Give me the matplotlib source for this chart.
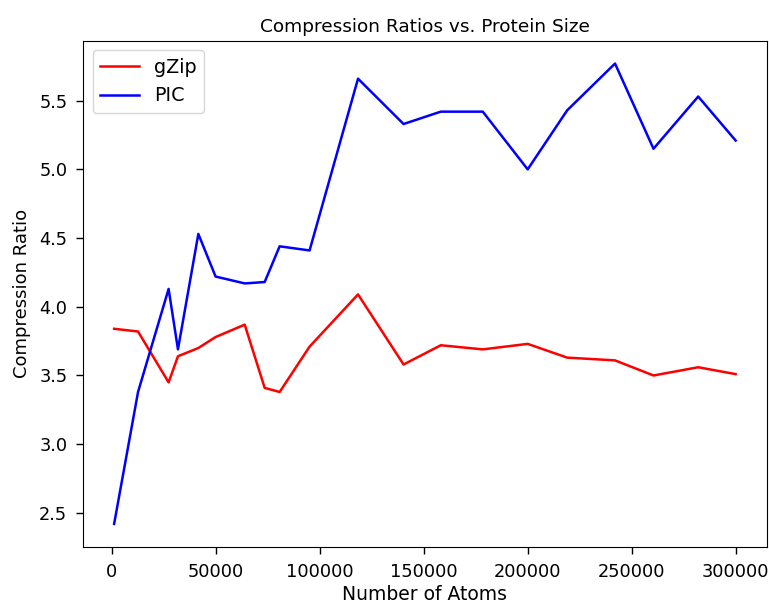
import matplotlib
matplotlib.use("Agg")
import matplotlib.pyplot as plt

# tamaños de proteína (número de átomos) y ratios
atoms = [1100, 12600, 27300, 31800, 41600, 49900, 63900, 73500, 80700, 95100,
         118400, 140300, 158200, 178400, 200000, 219000, 242000, 260500, 282000, 300000]
gzip_ratio = [3.84, 3.82, 3.45, 3.64, 3.70, 3.78, 3.87, 3.41, 3.38, 3.71,
              4.09, 3.58, 3.72, 3.69, 3.73, 3.63, 3.61, 3.50, 3.56, 3.51]
pic_ratio = [2.42, 3.38, 4.13, 3.69, 4.53, 4.22, 4.17, 4.18, 4.44, 4.41,
             5.66, 5.33, 5.42, 5.42, 5.00, 5.43, 5.77, 5.15, 5.53, 5.21]

plt.rcParams["font.size"] = 12.8

fig = plt.figure(figsize=(7.69, 6.05), dpi=100)
ax = fig.add_axes([0.108, 0.096, 0.889, 0.837])
ax.plot(atoms, gzip_ratio, color="red", lw=1.8, label="gZip")
ax.plot(atoms, pic_ratio, color="blue", lw=1.8, label="PIC")
ax.tick_params(length=4.8, width=1.0, pad=6.5)
ax.set_title("Compression Ratios vs. Protein Size", fontsize=13.3)
ax.set_xlabel("Number of Atoms", fontsize=13.5, labelpad=3)
ax.set_ylabel("Compression Ratio", fontsize=13, labelpad=6)
ax.legend(loc="upper left", fontsize=13.8)
fig.savefig("out.png", dpi=100)
